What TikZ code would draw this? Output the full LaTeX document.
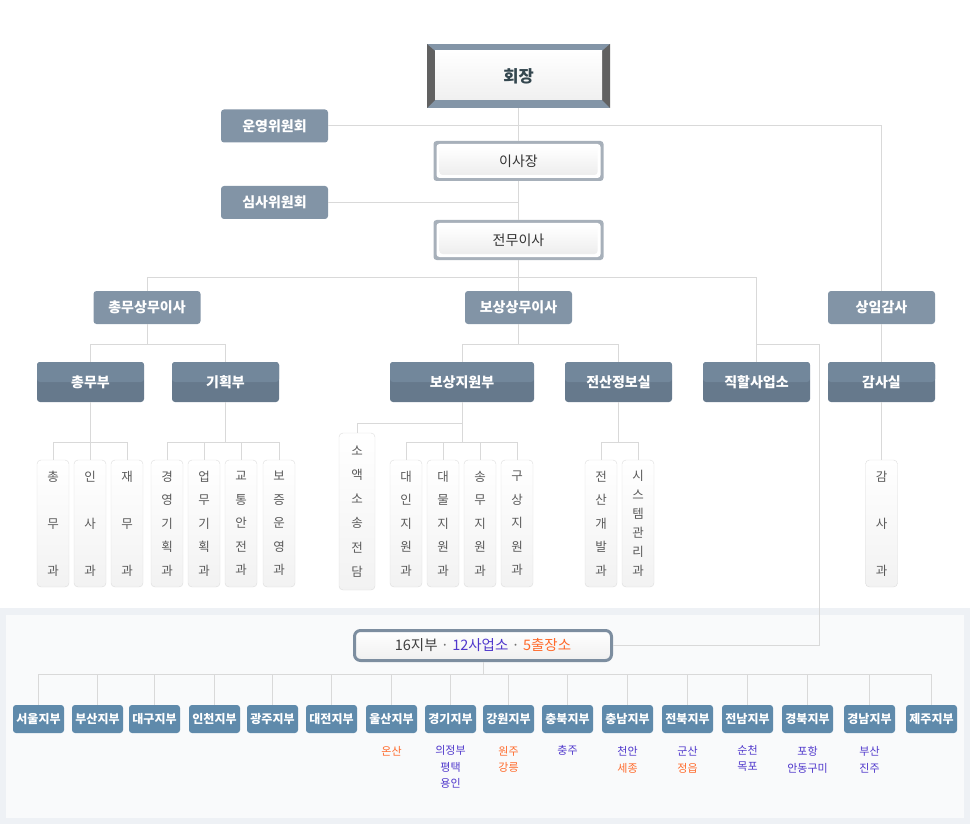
\documentclass[tikz,border=0pt]{standalone}
\usepackage{fontspec}
\setmainfont{Noto Sans CJK KR}
\usetikzlibrary{positioning}

\definecolor{frameblue}{HTML}{8395A7}
\definecolor{bevel}{HTML}{616161}
\definecolor{hatch}{HTML}{A7B0BA}
\definecolor{boxgray}{HTML}{8294A6}
\definecolor{depthigh}{HTML}{72879B}
\definecolor{deptlow}{HTML}{66798C}
\definecolor{branchblue}{HTML}{5F8AAB}
\definecolor{linegray}{HTML}{D9D9D9}
\definecolor{teamline}{HTML}{DCDCDC}
\definecolor{teamtext}{HTML}{5A5A5A}
\definecolor{panelout}{HTML}{EEF1F5}
\definecolor{panelin}{HTML}{F9FAFB}
\definecolor{cityA}{HTML}{FF6A2B}
\definecolor{cityB}{HTML}{5038CC}
\definecolor{hqframe}{HTML}{7D8EA0}
\definecolor{chairtext}{HTML}{34474F}

\begin{document}
\begin{tikzpicture}[x=1pt, y=-1pt, node distance=37pt]
  \tikzstyle{chairnode}=[minimum width=183pt, minimum height=64pt, inner sep=0pt, fill=frameblue, text=chairtext, font=\fontsize{16.5}{16.5}\selectfont\bfseries,
    path picture={
      \fill[bevel] (path picture bounding box.north west) -- ++(8pt,-7pt) -- ([shift={(8pt,8pt)}]path picture bounding box.south west) -- (path picture bounding box.south west) -- cycle;
      \fill[bevel] (path picture bounding box.north east) -- ++(-8pt,-7pt) -- ([shift={(-8pt,8pt)}]path picture bounding box.south east) -- (path picture bounding box.south east) -- cycle;
      \shade[top color=white, bottom color=black!6] ([shift={(8pt,-7pt)}]path picture bounding box.north west) rectangle ([shift={(-8pt,8pt)}]path picture bounding box.south east);}]
  \tikzstyle{boardnode}=[minimum width=170pt, minimum height=40pt, inner sep=0pt, fill=hatch, rounded corners=3pt, text=black!80, font=\fontsize{14}{14}\selectfont,
    path picture={
      \fill[white] ([shift={(3pt,-3pt)}]path picture bounding box.north west) rectangle ([shift={(-3pt,3pt)}]path picture bounding box.south east);
      \shade[top color=white, bottom color=black!7] ([shift={(6pt,-6pt)}]path picture bounding box.north west) rectangle ([shift={(-6pt,6pt)}]path picture bounding box.south east);}]
  \tikzstyle{graynode}=[minimum width=107pt, minimum height=33pt, inner sep=0pt, fill=boxgray, rounded corners=3pt, text=white, font=\fontsize{14}{14}\selectfont\bfseries]
  \tikzstyle{deptnode}=[minimum width=107pt, minimum height=40pt, inner sep=0pt, fill=deptlow, rounded corners=3pt, text=white, font=\fontsize{14}{14}\selectfont\bfseries,
    path picture={\fill[depthigh] (path picture bounding box.north west) rectangle (path picture bounding box.east);}]
  \tikzstyle{teamnode}=[minimum width=32pt, minimum height=127pt, inner sep=0pt, draw=teamline, top color=white, bottom color=black!5, rounded corners=4pt, text=teamtext, align=center, font=\fontsize{12.5}{23.5}\selectfont]
  \tikzstyle{teamthree}=[teamnode, font=\fontsize{12.5}{47}\selectfont]
  \tikzstyle{hqnode}=[minimum width=257pt, minimum height=30pt, draw=hqframe, line width=3pt, rounded corners=6pt, top color=white, bottom color=black!6, font=\fontsize{14.5}{14.5}\selectfont]
  \tikzstyle{branchnode}=[minimum width=51pt, minimum height=28pt, inner sep=0pt, fill=branchblue, rounded corners=3pt, text=white, font=\fontsize{12}{12}\selectfont\bfseries, node distance=59pt]
  \tikzstyle{citynode}=[inner sep=0pt, align=center, font=\fontsize{11}{16.5}\selectfont]
  \tikzstyle{orgline}=[draw=linegray, line width=1pt]

  \useasboundingbox (0,0) rectangle (970,824);
  % branch panel
  \fill[panelout] (0,608) rectangle (970,824);
  \fill[panelin] (6,615) rectangle (964,818);

  \node[chairnode] (chair) at (518.5,76) {회장};
  \node[boardnode] (board) at (518.5,161) {이사장};
  \node[boardnode] (exec) at (518.5,240) {전무이사};
  \node[graynode] (unyeong) at (274.5,126) {운영위원회};
  \node[graynode] (simsa) at (274.5,202.5) {심사위원회};

  \node[graynode] (chongmuSM) at (147,307.5) {총무상무이사};
  \node[graynode] (bosangSM) at (518.5,307.5) {보상상무이사};
  \node[graynode] (sangim) at (881.5,307.5) {상임감사};

  \node[deptnode] (chongmu) at (90.5,382) {총무부};
  \node[deptnode] (gihoek) at (225.5,382) {기획부};
  \node[deptnode, minimum width=144pt] (bosangJW) at (462,382) {보상지원부};
  \node[deptnode] (jeonsan) at (618.5,382) {전산정보실};
  \node[deptnode] (jikhal) at (756.5,382) {직할사업소};
  \node[deptnode] (gamsa) at (881.5,382) {감사실};

  % teams
  \node[teamthree] (tChongmu) at (53,523.5) {총\\무\\과};
  \node[teamthree, right of=tChongmu] (tInsa) {인\\사\\과};
  \node[teamthree, right of=tInsa] (tJaemu) {재\\무\\과};

  \node[teamnode] (tGyeong) at (167,523.5) {경\\영\\기\\획\\과};
  \node[teamnode, right of=tGyeong] (tEopmu) {업\\무\\기\\획\\과};
  \node[teamnode, right of=tEopmu] (tGyotong) {교\\통\\안\\전\\과};
  \node[teamnode, right of=tGyotong, xshift=1pt] (tBojeung) {보\\증\\운\\영\\과};

  \node[teamnode, minimum width=36pt, minimum height=157pt, font=\fontsize{12.5}{24.2}\selectfont] (tSoaek) at (357,511.5) {소\\액\\소\\송\\전\\담};
  \node[teamnode] (tDaein) at (406,523.5) {대\\인\\지\\원\\과};
  \node[teamnode, right of=tDaein] (tDaemul) {대\\물\\지\\원\\과};
  \node[teamnode, right of=tDaemul] (tSongmu) {송\\무\\지\\원\\과};
  \node[teamnode, right of=tSongmu] (tGusang) {구\\상\\지\\원\\과};

  \node[teamnode] (tDev) at (601,523.5) {전\\산\\개\\발\\과};
  \node[teamnode, right of=tDev, font=\fontsize{12.5}{19}\selectfont] (tSystem) {시\\스\\템\\관\\리\\과};

  \node[teamthree] (tGamsa) at (881.5,523.5) {감\\사\\과};

  % branches
  \node[hqnode] (hq) at (483,645.5) {{\color{black!75}16지부} {\color{black!55}·} {\color{cityB}12사업소} {\color{black!55}·} {\color{cityA}5출장소}};

  \node[branchnode] (bSeoul) at (38.5,719) {서울지부};
  \node[branchnode, right of=bSeoul, xshift=0pt] (bBusan) {부산지부};
  \node[branchnode, right of=bBusan, xshift=-2pt] (bDaegu) {대구지부};
  \node[branchnode, right of=bDaegu, xshift=1pt] (bIncheon) {인천지부};
  \node[branchnode, right of=bIncheon, xshift=-1pt] (bGwangju) {광주지부};
  \node[branchnode, right of=bGwangju, xshift=0pt] (bDaejeon) {대전지부};
  \node[branchnode, right of=bDaejeon, xshift=1pt] (bUlsan) {울산지부};
  \node[branchnode, right of=bUlsan, xshift=0pt] (bGyeonggi) {경기지부};
  \node[branchnode, right of=bGyeonggi, xshift=-1pt] (bGangwon) {강원지부};
  \node[branchnode, right of=bGangwon, xshift=0pt] (bChungbuk) {충북지부};
  \node[branchnode, right of=bChungbuk, xshift=1pt] (bChungnam) {충남지부};
  \node[branchnode, right of=bChungnam, xshift=1pt] (bJeonbuk) {전북지부};
  \node[branchnode, right of=bJeonbuk, xshift=1pt] (bJeonnam) {전남지부};
  \node[branchnode, right of=bJeonnam, xshift=1pt] (bGyeongbuk) {경북지부};
  \node[branchnode, right of=bGyeongbuk, xshift=3pt] (bGyeongnam) {경남지부};
  \node[branchnode, right of=bGyeongnam, xshift=3pt] (bJeju) {제주지부};

  \node[citynode, text=cityA, below=13pt of bUlsan] (cUlsan) {온산};
  \node[citynode, text=cityB, below=12pt of bGyeonggi] (cGyeonggi) {의정부\\평택\\용인};
  \node[citynode, text=cityA, below=13pt of bGangwon] (cGangwon) {원주\\강릉};
  \node[citynode, text=cityB, below=12pt of bChungbuk] (cChungbuk) {충주};
  \node[citynode, below=13pt of bChungnam] (cChungnam) {\textcolor{cityB}{천안}\\\textcolor{cityA}{세종}};
  \node[citynode, below=13pt of bJeonbuk] (cJeonbuk) {\textcolor{cityB}{군산}\\\textcolor{cityA}{정읍}};
  \node[citynode, text=cityB, below=12pt of bJeonnam] (cJeonnam) {순천\\목포};
  \node[citynode, text=cityB, below=13pt of bGyeongbuk] (cGyeongbuk) {포항\\안동구미};
  \node[citynode, text=cityB, below=13pt of bGyeongnam] (cGyeongnam) {부산\\진주};

  \coordinate (jikhalTurn) at (819,344);

  % edges
  \draw[orgline] (chair.south) -- (board.north);
  \draw[orgline] (board.south) -- (exec.north);
  \draw[orgline] (exec.south) -- (bosangSM.north);
  \draw[orgline] (unyeong.east) -| (sangim.north);
  \draw[orgline] (simsa.east) -- (simsa.east -| exec.north);
  \draw[orgline] (exec.south) -- ++(0,17) -| (chongmuSM.north);
  \draw[orgline] (exec.south) -- ++(0,17) -| (jikhal.north);

  \draw[orgline] (chongmuSM.south) -- ++(0,20) -| (chongmu.north);
  \draw[orgline] (chongmuSM.south) -- ++(0,20) -| (gihoek.north);
  \draw[orgline] (bosangSM.south) -- ++(0,20) -| (bosangJW.north);
  \draw[orgline] (bosangSM.south) -- ++(0,20) -| (jeonsan.north);
  \draw[orgline] (sangim.south) -- (gamsa.north);
  \draw[orgline] (jikhal.north |- jikhalTurn) -- (jikhalTurn) |- (hq.east);

  \draw[orgline] (chongmu.south) -- ++(0,40) -| (tChongmu.north);
  \draw[orgline] (chongmu.south) -- ++(0,40) -| (tInsa.north);
  \draw[orgline] (chongmu.south) -- ++(0,40) -| (tJaemu.north);
  \draw[orgline] (gihoek.south) -- ++(0,40) -| (tGyeong.north);
  \draw[orgline] (gihoek.south) -- ++(0,40) -| (tEopmu.north);
  \draw[orgline] (gihoek.south) -- ++(0,40) -| (tGyotong.north);
  \draw[orgline] (gihoek.south) -- ++(0,40) -| (tBojeung.north);
  \draw[orgline] (bosangJW.south) -- ++(0,21) -| (tSoaek.north);
  \draw[orgline] (bosangJW.south) -- ++(0,40) -| (tDaein.north);
  \draw[orgline] (bosangJW.south) -- ++(0,40) -| (tDaemul.north);
  \draw[orgline] (bosangJW.south) -- ++(0,40) -| (tSongmu.north);
  \draw[orgline] (bosangJW.south) -- ++(0,40) -| (tGusang.north);
  \draw[orgline] (jeonsan.south) -- ++(0,40) -| (tDev.north);
  \draw[orgline] (jeonsan.south) -- ++(0,40) -| (tSystem.north);
  \draw[orgline] (gamsa.south) -- (tGamsa.north);

  \draw[orgline] (hq.south) -- ++(0,12) -| (bSeoul.north);
  \draw[orgline] (hq.south) -- ++(0,12) -| (bBusan.north);
  \draw[orgline] (hq.south) -- ++(0,12) -| (bDaegu.north);
  \draw[orgline] (hq.south) -- ++(0,12) -| (bIncheon.north);
  \draw[orgline] (hq.south) -- ++(0,12) -| (bGwangju.north);
  \draw[orgline] (hq.south) -- ++(0,12) -| (bDaejeon.north);
  \draw[orgline] (hq.south) -- ++(0,12) -| (bUlsan.north);
  \draw[orgline] (hq.south) -- ++(0,12) -| (bGyeonggi.north);
  \draw[orgline] (hq.south) -- ++(0,12) -| (bGangwon.north);
  \draw[orgline] (hq.south) -- ++(0,12) -| (bChungbuk.north);
  \draw[orgline] (hq.south) -- ++(0,12) -| (bChungnam.north);
  \draw[orgline] (hq.south) -- ++(0,12) -| (bJeonbuk.north);
  \draw[orgline] (hq.south) -- ++(0,12) -| (bJeonnam.north);
  \draw[orgline] (hq.south) -- ++(0,12) -| (bGyeongbuk.north);
  \draw[orgline] (hq.south) -- ++(0,12) -| (bGyeongnam.north);
  \draw[orgline] (hq.south) -- ++(0,12) -| (bJeju.north);

\end{tikzpicture}
\end{document}
